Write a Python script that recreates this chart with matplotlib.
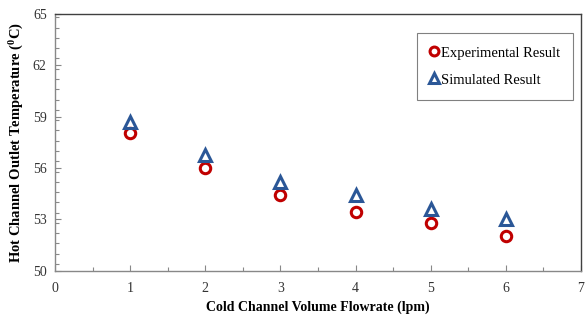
import matplotlib
matplotlib.use("Agg")
import matplotlib.pyplot as plt
from matplotlib.ticker import MultipleLocator

plt.rcParams['font.family'] = ['Liberation Serif', 'DejaVu Serif']
plt.rcParams['mathtext.fontset'] = 'custom'
plt.rcParams['mathtext.rm'] = 'Liberation Serif'
plt.rcParams['mathtext.bf'] = 'Liberation Serif:bold'

flowrate = [1, 2, 3, 4, 5, 6]
experimental = [58.05, 56.0, 54.45, 53.45, 52.8, 52.05]
simulated = [58.7, 56.75, 55.2, 54.4, 53.6, 53.0]

x_ticks = [0, 1, 2, 3, 4, 5, 6, 7]
y_ticks = [50, 53, 56, 59, 62, 65]

fig = plt.figure(figsize=(5.85, 3.24), dpi=100)
ax = fig.add_axes([0.094, 0.164, 0.899, 0.793])

ax.plot(flowrate, experimental, linestyle='none', marker='o', markersize=7.5,
        markerfacecolor='none', markeredgecolor='#C00000', markeredgewidth=2.2,
        label='Experimental Result', zorder=3)
ax.plot(flowrate, simulated, linestyle='none', marker='^', markersize=8,
        markerfacecolor='none', markeredgecolor='#2B5797', markeredgewidth=2.2,
        label='Simulated Result', zorder=3)

ax.set_xlim(0, 7)
ax.set_ylim(50, 65)
ax.set_xticks(x_ticks)
ax.set_yticks(y_ticks)
ax.xaxis.set_minor_locator(MultipleLocator(0.5))
ax.yaxis.set_minor_locator(MultipleLocator(0.6))
ax.tick_params(axis='both', which='both', direction='in', colors='#888888',
               labelcolor='#333333', labelsize=10)
ax.tick_params(axis='both', which='major', length=4, width=0.8)
ax.tick_params(axis='both', which='minor', length=3, width=0.8)
ax.tick_params(axis='x', pad=8)
ax.tick_params(axis='y', pad=6)

for s in ['left', 'bottom']:
    ax.spines[s].set_color('#888888')
    ax.spines[s].set_linewidth(1.0)
for s in ['top', 'right']:
    ax.spines[s].set_color('#404040')
    ax.spines[s].set_linewidth(1.0)

ax.set_xlabel('Cold Channel Volume Flowrate (lpm)', fontsize=10, fontweight='bold', labelpad=4)
ax.set_ylabel(r'Hot Channel Outlet Temperature ($\mathbf{^{0}}$C)', fontsize=10.5,
              fontweight='bold', labelpad=5)

leg = ax.legend(loc='upper right', bbox_to_anchor=(0.985, 0.925), fontsize=10.5,
                frameon=True, fancybox=False, edgecolor='#606060',
                handlelength=0.6, handletextpad=0.15, borderpad=0.9,
                labelspacing=0.95, markerscale=0.85, borderaxespad=0)
leg.get_frame().set_linewidth(0.8)

fig.savefig('out.png', dpi=100)
